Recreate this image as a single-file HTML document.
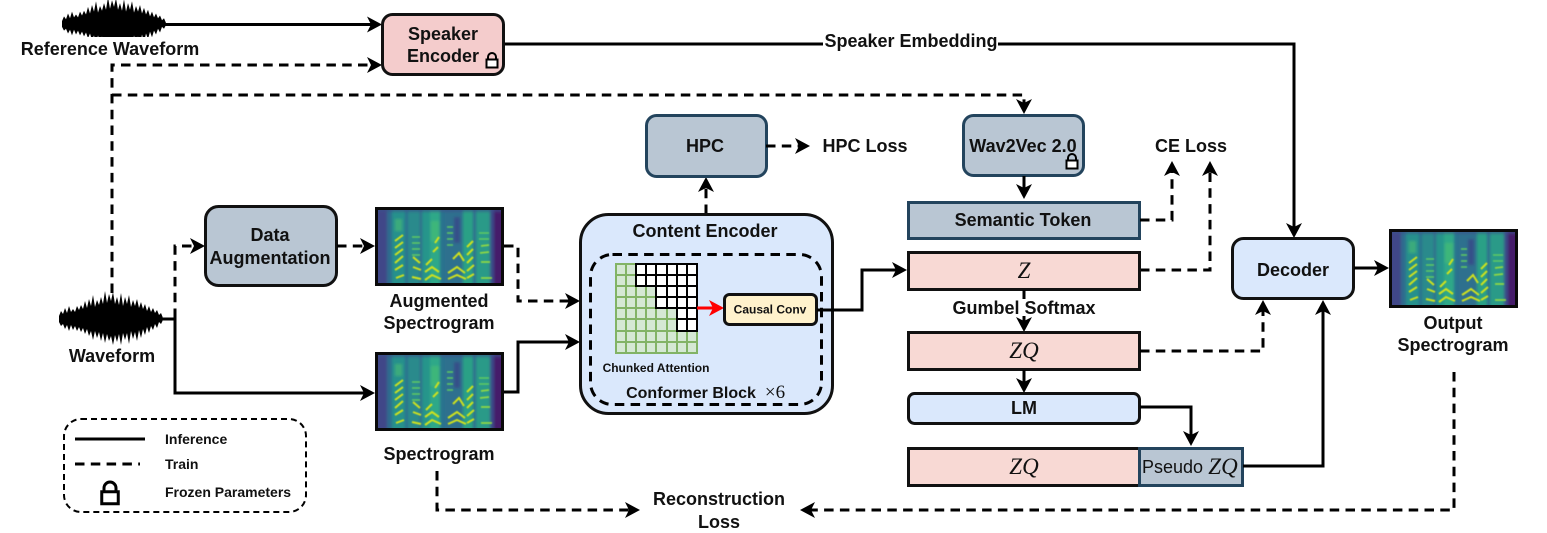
<!DOCTYPE html>
<html><head><meta charset="utf-8"><style>
html,body{margin:0;padding:0;background:#fff}
svg{display:block}
text{font-family:"Liberation Sans",sans-serif;font-weight:bold;font-size:18px;fill:#111;text-anchor:middle}
.m{font-family:"Liberation Serif",serif;font-style:italic;font-weight:normal;font-size:23px}
.l{stroke:#000;stroke-width:3;fill:none}
.d{stroke:#000;stroke-width:3;fill:none;stroke-dasharray:9.5 6.3}
.a{marker-end:url(#ah)}
.blue{fill:#dae8fc;stroke:#111;stroke-width:3}
.gray{fill:#b9c6d3;stroke:#23445d;stroke-width:3}
.pink{fill:#f8d9d4;stroke:#111;stroke-width:3}
.lg{font-size:14px;text-anchor:start}
.y{fill:none;stroke:#cfe11f;stroke-width:2}
.g2{fill:none;stroke:#5ec962;stroke-width:1.4}
</style></head><body>
<svg width="1547" height="533" viewBox="0 0 1547 533" xmlns="http://www.w3.org/2000/svg">
<defs>
<marker id="ah" markerUnits="userSpaceOnUse" markerWidth="18" markerHeight="18" refX="12" refY="9" orient="auto"><path d="M0 1 L15 9 L0 17 L4 9Z" fill="#000"/></marker>
<marker id="ar" markerUnits="userSpaceOnUse" markerWidth="18" markerHeight="18" refX="12" refY="9" orient="auto"><path d="M0 1 L15 9 L0 17 L4 9Z" fill="#f00"/></marker>
<clipPath id="sc"><rect x="2" y="2" width="125" height="75"/></clipPath>
<clipPath id="rc"><rect x="50" y="0" width="130" height="37"/></clipPath>
<filter id="bl" x="-5%" y="-5%" width="110%" height="110%"><feGaussianBlur stdDeviation="1.3"/></filter>
<filter id="bs" x="-5%" y="-5%" width="110%" height="110%"><feGaussianBlur stdDeviation="0.45"/></filter>
<g id="spec">
<rect x="1.5" y="1.5" width="126" height="76" fill="#31688e"/>
<g clip-path="url(#sc)"><g filter="url(#bl)">
<rect x="0" y="0" width="12" height="80" fill="#3f4788"/>
<rect x="12" y="0" width="5" height="80" fill="#2f6c8e"/>
<rect x="17" y="0" width="13" height="80" fill="#26908c"/>
<rect x="30" y="0" width="3" height="80" fill="#2b6f8e"/>
<rect x="33" y="0" width="12" height="80" fill="#2a8a8c"/>
<rect x="45" y="0" width="2" height="80" fill="#33638d"/>
<rect x="47" y="0" width="8" height="80" fill="#27958b"/>
<rect x="55" y="0" width="10" height="80" fill="#2ea888"/>
<rect x="65" y="0" width="5" height="80" fill="#2c728e"/>
<rect x="70" y="0" width="18" height="80" fill="#2f6f8e"/>
<rect x="79" y="10" width="6" height="26" fill="#365089"/>
<rect x="88" y="0" width="10" height="80" fill="#29a086"/>
<rect x="98" y="0" width="3" height="80" fill="#2f6a8e"/>
<rect x="101" y="0" width="14" height="80" fill="#2a9a88"/>
<rect x="115" y="0" width="4" height="80" fill="#3a4a89"/>
<rect x="119" y="0" width="10" height="80" fill="#451a6b"/>
<rect x="0" y="0" width="129" height="5" fill="#3b528b" opacity=".6"/>
<rect x="20" y="12" width="7" height="12" fill="#4ec36b" opacity=".5"/>
<rect x="56" y="14" width="8" height="20" fill="#4ec36b" opacity=".5"/>
</g>
<g filter="url(#bs)">
<path class="g2" d="M37 30H45M37 36H45M37 42H45M37 48H45M72 20H78M72 26H78M72 32H78M72 38H78M104 26H114M104 32H114"/>
<path class="y" d="M20 34 L28 28 M20 41 L28 35 M20 48 L28 42 M20 56 L28 49 M20 63 L28 58 M21 71 L29 68"/>
<path class="y" d="M38 50 L45 56 M38 60 L46 63 M37 70 L46 72"/>
<path class="y" d="M51 58 L57 52 M50 65 L57 60 L64 65 M50 73 L57 68 L66 72 M58 45 L63 40 M60 36 L64 30"/>
<path class="y" d="M73 66 L82 60 L90 66 M73 72 L82 68 L91 72 M78 52 L84 46 L89 54"/>
<path class="y" d="M92 40 L98 34 M92 48 L98 42 M92 56 L98 50 M92 64 L99 58 M92 71 L99 67"/>
<path d="M106 39 L114 38 M105 46 L114 45 M106 55 L115 55 M106 71 L117 71" fill="none" stroke="#8fd744" stroke-width="1.8"/>
</g></g>
<rect x="1.5" y="1.5" width="126" height="76" fill="none" stroke="#0a0a0a" stroke-width="3"/>
</g>
<path id="wave" fill="#000" d="M0 0 L0-3 2-8 4-5 6-11 8-6 10-13 12-7 14-10 16-7 18-13 20-9 22-14 24-10 26-18 28-11 30-20 32-13 34-24 36-12 38-19 40-14 42-22 44-15 46-28 48-16 50-25 52-18 54-27 56-15 58-22 60-14 62-26 64-13 66-22 68-15 70-24 72-12 74-19 76-13 78-20 80-11 82-17 84-10 86-15 88-8 90-13 92-7 94-11 96-6 98-9 100-4 102-6 104-1 L104 1 102 5 100 3 98 9 96 5 94 11 92 7 90 14 88 8 86 16 84 10 82 19 80 11 78 22 76 13 74 20 72 12 70 25 68 14 66 21 64 14 62 26 60 15 58 23 56 16 54 26 52 17 50 22 48 15 46 24 44 14 42 22 40 13 38 19 36 12 34 21 32 12 30 17 28 10 26 15 24 9 22 13 20 8 18 12 16 7 14 11 12 6 10 12 8 6 6 10 4 5 2 7 0 3Z"/>
<g id="lock"><path d="M-4-1.5 V-4 A4 4 0 0 1 4-4 V-1.5" fill="none" stroke="#000" stroke-width="2"/><rect x="-5.5" y="-1.5" width="11" height="8" fill="#fff" stroke="#000" stroke-width="2"/></g>
</defs>

<!-- waveforms -->
<g clip-path="url(#rc)"><use href="#wave" transform="translate(62,24) scale(1,0.95)"/></g>
<use href="#wave" transform="translate(59,319)"/>
<text x="110" y="55">Reference Waveform</text>
<text x="112" y="362">Waveform</text>

<!-- long connectors -->
<path class="l a" d="M165 24.5 H379"/>
<path class="d a" d="M112 293 V65 H379"/>
<path class="d a" d="M112 95 H1024 V111"/>
<path class="l a" d="M503 44 H1294 V235"/>
<rect x="823" y="33" width="175" height="17" fill="#fff"/>
<text x="911" y="47">Speaker Embedding</text>

<!-- speaker encoder -->
<rect x="382.5" y="14.5" width="121" height="60" rx="10" fill="#f4cccc" stroke="#111" stroke-width="3"/>
<text x="443" y="40">Speaker</text>
<text x="443" y="62">Encoder</text>
<use href="#lock" x="492" y="61"/>

<!-- data aug -->
<path class="d a" d="M175 318 V246 H202"/>
<path class="l a" d="M163 319 H175 V393 H372"/>
<rect x="205.5" y="206.5" width="131" height="79" rx="13" fill="#b9c6d3" stroke="#111" stroke-width="3"/>
<text x="270" y="241">Data</text>
<text x="270" y="264">Augmentation</text>
<path class="d a" d="M337 246 H372"/>
<use href="#spec" x="375" y="207"/>
<text x="439" y="307">Augmented</text>
<text x="439" y="329">Spectrogram</text>
<use href="#spec" x="375" y="352"/>
<text x="439" y="460">Spectrogram</text>
<path class="d a" d="M504 246 H518 V301 H577"/>
<path class="l a" d="M504 392 H518 V342 H577"/>
<path class="d a" d="M437 471 V510 H637"/>

<!-- content encoder -->
<path class="d a" d="M706 214 V180"/>
<rect x="580.5" y="214.5" width="252" height="199" rx="28" class="blue"/>
<text x="705" y="237">Content Encoder</text>
<rect x="590.5" y="254.5" width="231" height="150" rx="22" fill="none" stroke="#000" stroke-width="3" stroke-dasharray="9.5 6.3"/>
<g>
<rect x="616" y="264" width="81" height="89" fill="#d5e8d4" stroke="#82b366" stroke-width="2"/>
<path fill="none" stroke="#82b366" stroke-width="2" d="M626 264V353M636 264V353M646 264V353M656 264V353M667 264V353M677 264V353M687 264V353M616 275H697M616 286H697M616 297H697M616 308H697M616 319H697M616 331H697M616 342H697"/>
<path fill="#fff" d="M636 264H697V331H677V308H656V286H636Z"/>
<path fill="none" stroke="#000" stroke-width="2" d="M636 264H697V331H677V308H656V286H636Z M646 264V286M656 264V286M667 264V308M677 264V308M687 264V331M636 275H697M656 286H697M656 297H697M677 308H697M677 319H697"/>
</g>
<path d="M697 308 H721" fill="none" stroke="#f00" stroke-width="3" marker-end="url(#ar)"/>
<rect x="724.5" y="294.5" width="92" height="30" rx="5" fill="#fff2cc" stroke="#111" stroke-width="3"/>
<text x="770" y="313.500" style="font-size:12px">Causal Conv</text>
<text x="656" y="372" style="font-size:12px">Chunked Attention</text>
<text x="691" y="398" style="font-size:16px">Conformer Block</text>
<text x="775" y="398" style="font-family:'Liberation Serif',serif;font-weight:normal;font-size:19px">×6</text>
<path class="l a" d="M817 310 H862 V270 H904"/>

<!-- HPC -->
<rect x="646.5" y="115.5" width="120" height="61" rx="10" class="gray"/>
<text x="705" y="152">HPC</text>
<path class="d a" d="M766 146 H807"/>
<text x="865" y="152">HPC Loss</text>

<!-- Wav2Vec -->
<rect x="963.5" y="115.5" width="120" height="60" rx="10" class="gray"/>
<text x="1023" y="152">Wav2Vec 2.0</text>
<use href="#lock" x="1072" y="162"/>
<path class="l a" d="M1024 176 V196"/>
<rect x="908.5" y="202.5" width="231" height="36" class="gray"/>
<text x="1023" y="226">Semantic Token</text>
<path class="d a" d="M1140 220 H1172 V164"/>
<path class="d a" d="M1140 270 H1210 V164"/>
<text x="1191" y="152">CE Loss</text>

<rect x="908.5" y="252.5" width="231" height="37" class="pink"/>
<text class="m" x="1024" y="278">Z</text>
<path class="l a" d="M1024 290 V329"/>
<rect x="952" y="299" width="145" height="17" fill="#fff"/>
<text x="1024" y="314">Gumbel Softmax</text>
<rect x="908.5" y="332.5" width="231" height="37" class="pink"/>
<text class="m" x="1024" y="358">ZQ</text>
<path class="l a" d="M1024 370 V390"/>
<rect x="908.5" y="393.5" width="231" height="30" rx="6" class="blue"/>
<text x="1024" y="414">LM</text>
<path class="l a" d="M1140 407 H1191 V443"/>
<rect x="908.5" y="448.5" width="231" height="37" class="pink"/>
<text class="m" x="1024" y="474">ZQ</text>
<rect x="1139.5" y="448.5" width="103" height="37" class="gray"/>
<text x="1172.5" y="473" style="font-weight:normal">Pseudo</text>
<text class="m" x="1223" y="474">ZQ</text>
<path class="l a" d="M1243 466 H1323 V303"/>
<path class="d a" d="M1140 351 H1263 V303"/>

<!-- decoder -->
<rect x="1232.5" y="238.5" width="121" height="60" rx="11" class="blue"/>
<text x="1293" y="276">Decoder</text>
<path class="l a" d="M1354 268 H1386"/>
<use href="#spec" x="1389" y="229"/>
<text x="1453" y="329">Output</text>
<text x="1453" y="351">Spectrogram</text>
<path class="d a" d="M1454 372 V510 H803"/>
<text x="719" y="505">Reconstruction</text>
<text x="719" y="528">Loss</text>

<!-- legend -->
<rect x="64" y="419" width="242" height="93" rx="17" fill="none" stroke="#000" stroke-width="2" stroke-dasharray="6 4"/>
<path class="l" d="M75 439 H145"/>
<path class="d" d="M75 464 H140"/>
<text class="lg" x="165" y="444">Inference</text>
<text class="lg" x="165" y="469">Train</text>
<text class="lg" x="165" y="497">Frozen Parameters</text>
<use href="#lock" transform="translate(110,494) scale(1.5)"/>
</svg>
</body></html>
